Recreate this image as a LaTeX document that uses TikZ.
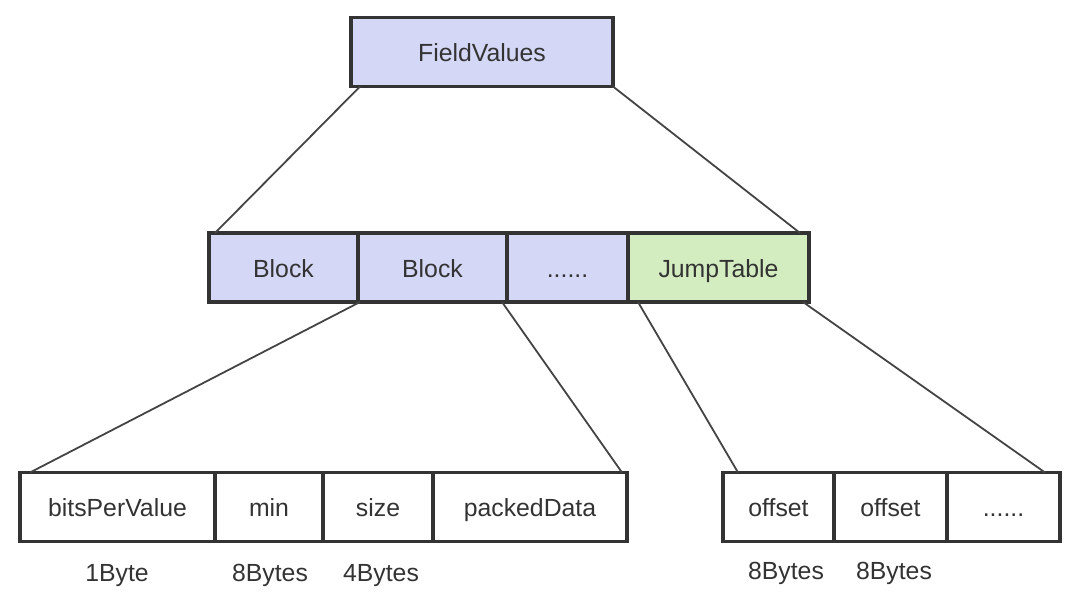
\documentclass[tikz,border=0pt]{standalone}
\usepackage{fontspec}
\setmainfont{Liberation Sans}
\usetikzlibrary{calc}
\definecolor{blockblue}{HTML}{D4D7F5}
\definecolor{jumpgreen}{HTML}{D3EDC0}
\definecolor{edgegray}{HTML}{333333}
\definecolor{linkgray}{HTML}{444444}
\definecolor{textgray}{HTML}{333333}

\begin{document}
\begin{tikzpicture}[x=1pt,y=-1pt,
  cell/.style={draw=edgegray,line width=3.6pt,outer sep=0pt,inner sep=0pt,
    minimum height=69pt,text height=21pt,text depth=2pt,text=textgray,
    font=\fontsize{24.8}{29}\selectfont},
  link/.style={draw=linkgray,line width=1.8pt},
  size label/.style={text=textgray,text height=21pt,text depth=2pt,
    font=\fontsize{24.8}{29}\selectfont}]
\useasboundingbox (0,0) rectangle (1086,598);

% top
\node[cell,fill=blockblue,minimum width=262pt] (fv) at (482,52) {FieldValues};

% middle row
\node[cell,fill=blockblue,minimum width=149pt] (b1) at (283.5,267.5) {Block};
\node[cell,fill=blockblue,minimum width=149pt] (b2) at (432.5,267.5) {Block};
\node[cell,fill=blockblue,minimum width=121pt] (bdots) at (567.5,267.5) {......};
\node[cell,fill=jumpgreen,minimum width=181pt] (jt) at (718.5,267.5) {JumpTable};

% block layout
\node[cell,fill=white,minimum width=195pt] (bits) at (117.5,507) {bitsPerValue};
\node[cell,fill=white,minimum width=108pt] (min) at (269,507) {min};
\node[cell,fill=white,minimum width=110pt] (size) at (378,507) {size};
\node[cell,fill=white,minimum width=194pt] (packed) at (530,507) {packedData};

% jump table layout
\node[cell,fill=white,minimum width=111pt] (off1) at (778.5,507) {offset};
\node[cell,fill=white,minimum width=113pt] (off2) at (890.5,507) {offset};
\node[cell,fill=white,minimum width=113pt] (odots) at (1003.5,507) {......};

% sizes
\node[size label] (sbits) at (117,572) {1Byte};
\node[size label] (smin) at (270,572) {8Bytes};
\node[size label] (ssize) at (381,572) {4Bytes};
\node[size label] (soff1) at (786,570) {8Bytes};
\node[size label] (soff2) at (894,570) {8Bytes};

% connectors
\draw[link] ([xshift=9pt]fv.south west) -- ([xshift=6pt]b1.north west);
\draw[link] (fv.south east) -- ([xshift=-9pt]jt.north east);
\draw[link] ([xshift=2pt]b2.south west) -- ([xshift=10pt]bits.north west);
\draw[link] ([xshift=-5pt]b2.south east) -- ([xshift=-5pt]packed.north east);
\draw[link] ([xshift=10pt]jt.south west) -- ([xshift=15pt]off1.north west);
\draw[link] ([xshift=-6pt]jt.south east) -- ([xshift=-15pt]odots.north east);
\end{tikzpicture}
\end{document}
